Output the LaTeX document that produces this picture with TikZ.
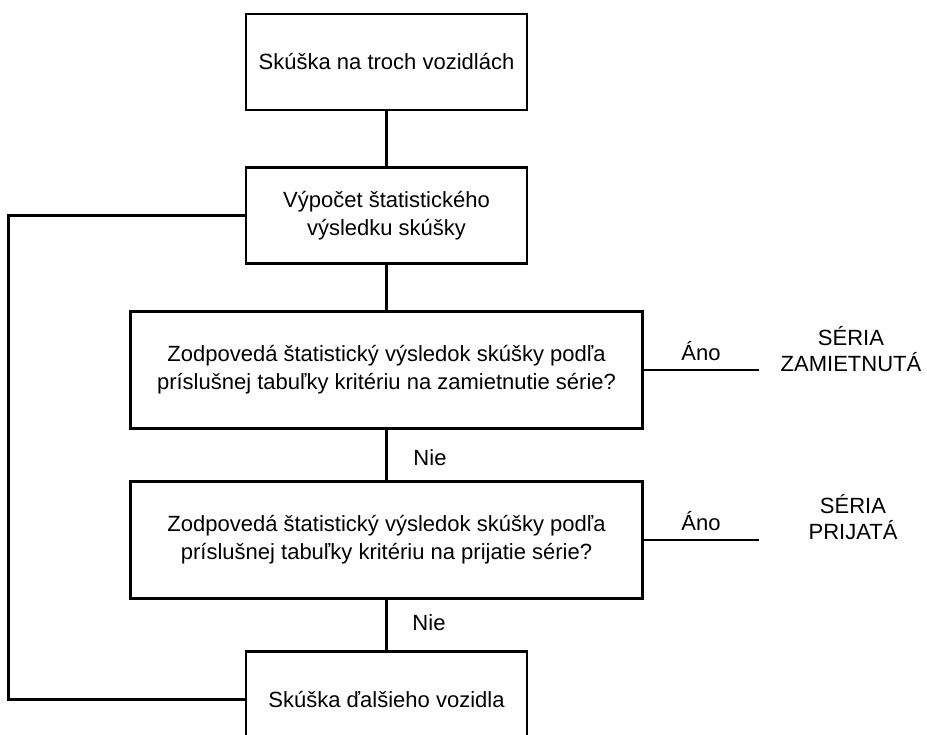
\documentclass[tikz,border=0pt]{standalone}
\usepackage{fontspec}
\setmainfont{Liberation Sans}
\usetikzlibrary{positioning}

\begin{document}
\begin{tikzpicture}[
    x=1pt, y=-1pt,
    font={\fontsize{22}{27.7}\selectfont},
    base/.style={text=black,inner sep=6pt,align=center,rectangle},
    stepbox/.style={base,line width=2.9pt,draw=black,minimum width=281pt,minimum height=96pt},
    askbox/.style={stepbox,minimum width=512pt,minimum height=117pt},
    note/.style={base,inner sep=2pt,font={\fontsize{22}{26.5}\selectfont}},
    link/.style={-,line width=2.9pt},
]
    \useasboundingbox (0,0) rectangle (927,735);

    % Steps
    \node[stepbox] (test3) at (386.5,62)    {Skúška na troch vozidlách};
    \node[stepbox] (calc)  at (386.5,215.5) {Výpočet štatistického\\výsledku skúšky};
    \node[askbox]  (reject) at (386.5,370)  {Zodpovedá štatistický výsledok skúšky podľa\\príslušnej tabuľky kritériu na zamietnutie série?};
    \node[askbox]  (accept) at (386.5,540)  {Zodpovedá štatistický výsledok skúšky podľa\\príslušnej tabuľky kritériu na prijatie série?};
    \node[stepbox] (next)  at (386.5,699.5) {Skúška ďalšieho vozidla};
    \draw[link](test3) -- (calc);
    \draw[link](calc) -- (reject);
    \draw[link](reject) -- (accept);
    \draw[link](accept) -- (next);
    \node[note] (rejectno) at (430,458) {Nie};
    \node[note] (acceptno) at (429,623) {Nie};

    % Outcomes
    \coordinate (rejectend) at (759,370);
    \coordinate (acceptend) at (759,540);
    \draw[link](reject.east) -- (rejectend);
    \draw[link](accept.east) -- (acceptend);
    \node[note] (rejectyes) at (701,351) {Áno};
    \node[note] (acceptyes) at (701,521) {Áno};
    \node[note] (rejected) at (851,349) {SÉRIA\\ZAMIETNUTÁ};
    \node[note] (accepted) at (853,517) {SÉRIA\\PRIJATÁ};

    % Loop back
    \coordinate (loopbot) at (8.6,699.5);
    \coordinate (looptop) at (8.6,215.5);
    \draw[link](next.west) -- (loopbot) -- (looptop) -- (calc.west);

\end{tikzpicture}
\end{document}
